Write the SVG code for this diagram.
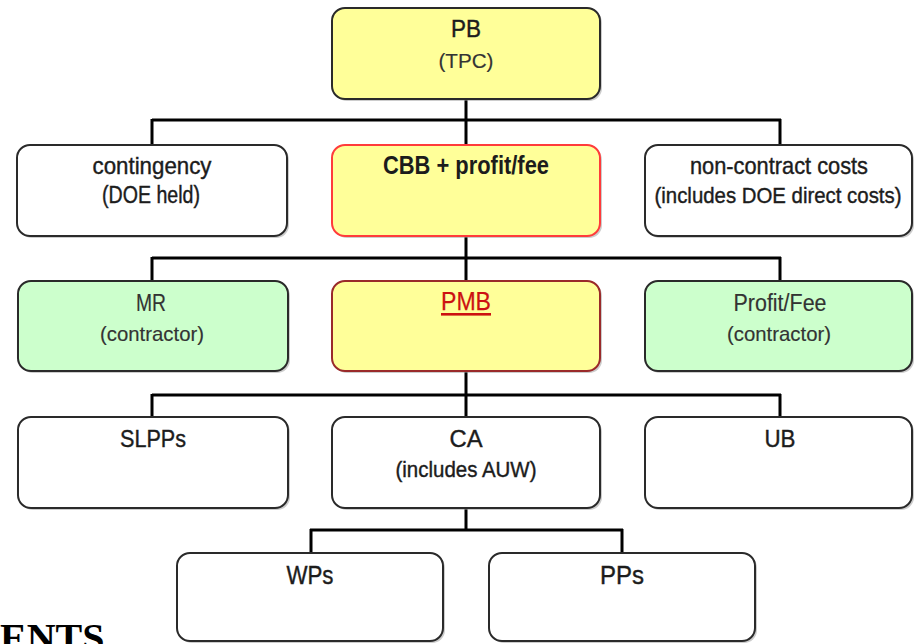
<svg xmlns="http://www.w3.org/2000/svg" width="920" height="644" viewBox="0 0 920 644">
<style>
.box{stroke:#2a2a2a;stroke-width:2;fill:#fff}
.sh{fill:#9a9a9a;opacity:0.5}
.yel{fill:#ffff99}
.grn{fill:#ccffcc}
.red{stroke:#ff3b3b}
.pmb{stroke:#9a2a2a}
.t{font-family:"Liberation Sans",Arial,sans-serif;text-anchor:middle;fill:#1c1c1c}
.d{stroke:#1c1c1c;stroke-width:0.4}
.g{fill:#333;stroke:#333;stroke-width:0.15}
.b{font-weight:bold}
.conn{stroke:#000;stroke-width:3;fill:none}
</style>
<rect width="920" height="644" fill="#fff"/>
<g id="connectors">
<path class="conn" d="M466 99V145M152 120H781M152 119V145M780 119V145"/>
<path class="conn" d="M466 236V281M152 258H781M152 257V281M780 257V281"/>
<path class="conn" d="M466 371V417M152 395H781M152 394V417M780 394V417"/>
<path class="conn" d="M466 508V530M310 530H623M311 529V553M622 529V553"/>
</g>
<g id="PB">
<rect class="sh" x="334" y="10" width="268" height="91" rx="13"/>
<rect class="box yel" x="332" y="8" width="268" height="91" rx="13"/>
<text class="t d" x="466" y="37" font-size="23" textLength="30" lengthAdjust="spacingAndGlyphs">PB</text>
<text class="t g" x="466" y="68" font-size="20" textLength="55" lengthAdjust="spacingAndGlyphs">(TPC)</text>
</g>
<g id="contingency">
<rect class="sh" x="19" y="147" width="270" height="91" rx="13"/>
<rect class="box" x="17" y="145" width="270" height="91" rx="13"/>
<text class="t d" x="152" y="174" font-size="24" textLength="119" lengthAdjust="spacingAndGlyphs">contingency</text>
<text class="t d" x="151" y="203" font-size="23" textLength="98" lengthAdjust="spacingAndGlyphs">(DOE held)</text>
</g>
<g id="CBB">
<rect class="sh" x="334" y="147" width="268" height="91" rx="13"/>
<rect class="box yel red" x="332" y="145" width="268" height="91" rx="13"/>
<text class="t b" x="466" y="174" font-size="25" textLength="166" lengthAdjust="spacingAndGlyphs">CBB + profit/fee</text>
</g>
<g id="noncontract">
<rect class="sh" x="647" y="147" width="267" height="91" rx="13"/>
<rect class="box" x="645" y="145" width="267" height="91" rx="13"/>
<text class="t d" x="779" y="174" font-size="24" textLength="178" lengthAdjust="spacingAndGlyphs">non-contract costs</text>
<text class="t d" x="778" y="203" font-size="22" textLength="247" lengthAdjust="spacingAndGlyphs">(includes DOE direct costs)</text>
</g>
<g id="MR">
<rect class="sh" x="20" y="283" width="270" height="90" rx="13"/>
<rect class="box grn" x="18" y="281" width="270" height="90" rx="13"/>
<text class="t g" x="151" y="311" font-size="23" textLength="30" lengthAdjust="spacingAndGlyphs">MR</text>
<text class="t g" x="152" y="341" font-size="21" textLength="104" lengthAdjust="spacingAndGlyphs">(contractor)</text>
</g>
<g id="PMB">
<rect class="sh" x="334" y="283" width="268" height="90" rx="13"/>
<rect class="box yel pmb" x="332" y="281" width="268" height="90" rx="13"/>
<text class="t" x="466" y="310" font-size="25" style="fill:#cc1111;stroke:#cc1111;stroke-width:0.25" textLength="50" lengthAdjust="spacingAndGlyphs">PMB</text>
<rect x="441" y="313" width="50" height="2.6" fill="#cc1111"/>
</g>
<g id="ProfitFee">
<rect class="sh" x="647" y="283" width="267" height="90" rx="13"/>
<rect class="box grn" x="645" y="281" width="267" height="90" rx="13"/>
<text class="t g" x="780" y="311" font-size="23" textLength="93" lengthAdjust="spacingAndGlyphs">Profit/Fee</text>
<text class="t g" x="779" y="341" font-size="21" textLength="104" lengthAdjust="spacingAndGlyphs">(contractor)</text>
</g>
<g id="SLPPs">
<rect class="sh" x="20" y="419" width="270" height="91" rx="13"/>
<rect class="box" x="18" y="417" width="270" height="91" rx="13"/>
<text class="t d" x="153" y="447" font-size="24" textLength="66" lengthAdjust="spacingAndGlyphs">SLPPs</text>
</g>
<g id="CA">
<rect class="sh" x="334" y="419" width="268" height="91" rx="13"/>
<rect class="box" x="332" y="417" width="268" height="91" rx="13"/>
<text class="t d" x="466" y="447" font-size="24" textLength="33" lengthAdjust="spacingAndGlyphs">CA</text>
<text class="t d" x="466" y="477" font-size="22" textLength="141" lengthAdjust="spacingAndGlyphs">(includes AUW)</text>
</g>
<g id="UB">
<rect class="sh" x="647" y="419" width="267" height="91" rx="13"/>
<rect class="box" x="645" y="417" width="267" height="91" rx="13"/>
<text class="t d" x="780" y="447" font-size="24" textLength="31" lengthAdjust="spacingAndGlyphs">UB</text>
</g>
<g id="WPs">
<rect class="sh" x="179" y="555" width="266" height="88" rx="13"/>
<rect class="box" x="177" y="553" width="266" height="88" rx="13"/>
<text class="t d" x="310" y="584" font-size="25" textLength="47" lengthAdjust="spacingAndGlyphs">WPs</text>
</g>
<g id="PPs">
<rect class="sh" x="491" y="555" width="266" height="88" rx="13"/>
<rect class="box" x="489" y="553" width="266" height="88" rx="13"/>
<text class="t d" x="622" y="584" font-size="25" textLength="44" lengthAdjust="spacingAndGlyphs">PPs</text>
</g>
<text x="0" y="651" style="font-family:'Liberation Serif','Times New Roman',serif;font-weight:bold;font-size:40px;fill:#000">ENTS</text>
</svg>
